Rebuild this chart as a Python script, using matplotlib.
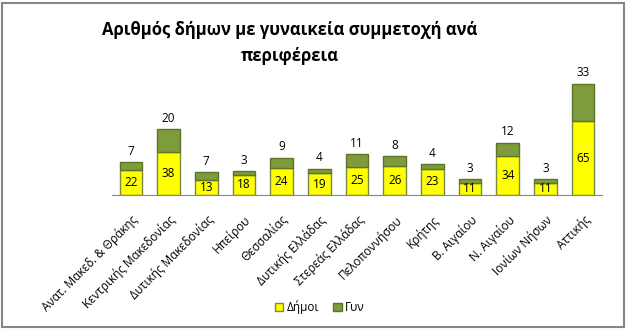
import matplotlib
matplotlib.use("Agg")
import matplotlib.pyplot as plt
from matplotlib.patches import Rectangle, Patch

plt.rcParams['font.family'] = ['Open Sans', 'DejaVu Sans']

# -----------------------------
# Data
# -----------------------------
regions = ["Ανατ. Μακεδ. & Θράκης", "Κεντρικής Μακεδονίας", "Δυτικής Μακεδονίας",
           "Ηπείρου", "Θεσσαλίας", "Δυτικής Ελλάδας", "Στερεάς Ελλάδας",
           "Πελοποννήσου", "Κρήτης", "Β. Αιγαίου", "Ν. Αιγαίου",
           "Ιονίων Νήσων", "Αττικής"]
dimoi = [22, 38, 13, 18, 24, 19, 25, 26, 23, 11, 34, 11, 65]
gyn = [7, 20, 7, 3, 9, 4, 11, 8, 4, 3, 12, 3, 33]

YELLOW = "#FFFF00"
GREEN = "#7F9C3C"
EDGE_Y = "#7A8A40"
EDGE_G = "#5C7328"

W, H = 627, 330
fig = plt.figure(figsize=(W / 100, H / 100), dpi=100)

# chart frame (spreadsheet chart object)
fig.patches.append(Rectangle((2 / W, 3 / H), 622 / W, 324 / H, transform=fig.transFigure,
                             fill=False, edgecolor="#868686", lw=1.5))

ax = fig.add_axes([112 / W, 1 - 195 / H, 490 / W, 136 / H])
x = range(len(regions))
ax.bar(x, dimoi, width=0.6, color=YELLOW, edgecolor=EDGE_Y, lw=1.0, label="Δήμοι")
ax.bar(x, gyn, width=0.6, bottom=dimoi, color=GREEN, edgecolor=EDGE_G, lw=1.0, label="Γυν")

for i, (d, g) in enumerate(zip(dimoi, gyn)):
    ax.text(i, d / 2, str(d), ha="center", va="center", fontsize=8.5, color="black")
    ax.text(i, d + g + 4, str(g), ha="center", va="bottom", fontsize=8.5, color="black")

ax.set_xlim(-0.5, len(regions) - 0.5)
ax.set_ylim(0, 120)
ax.set_xticks(list(x))
ax.set_xticklabels(regions, rotation=45, ha="right", rotation_mode="anchor", fontsize=8.5)
ax.tick_params(axis="x", length=0, pad=13)
ax.set_yticks([])
for s in ["top", "right", "left"]:
    ax.spines[s].set_visible(False)
ax.spines["bottom"].set_color("#868686")
ax.patch.set_alpha(0)

fig.text(290 / W, 1 - 30 / H, "Αριθμός δήμων με γυναικεία συμμετοχή ανά",
         ha="center", va="center", fontsize=12, fontweight="bold")
fig.text(290 / W, 1 - 56 / H, "περιφέρεια",
         ha="center", va="center", fontsize=12, fontweight="bold")

handles = [Patch(facecolor=YELLOW, edgecolor=EDGE_Y), Patch(facecolor=GREEN, edgecolor=EDGE_G)]
fig.legend(handles, ["Δήμοι", "Γυν"], loc="center", bbox_to_anchor=(320 / W, 1 - 307 / H),
           ncol=2, frameon=False, fontsize=8.5, handlelength=0.7, handleheight=0.7,
           handletextpad=0.3, columnspacing=1.2)

fig.savefig("out.png", dpi=100)
